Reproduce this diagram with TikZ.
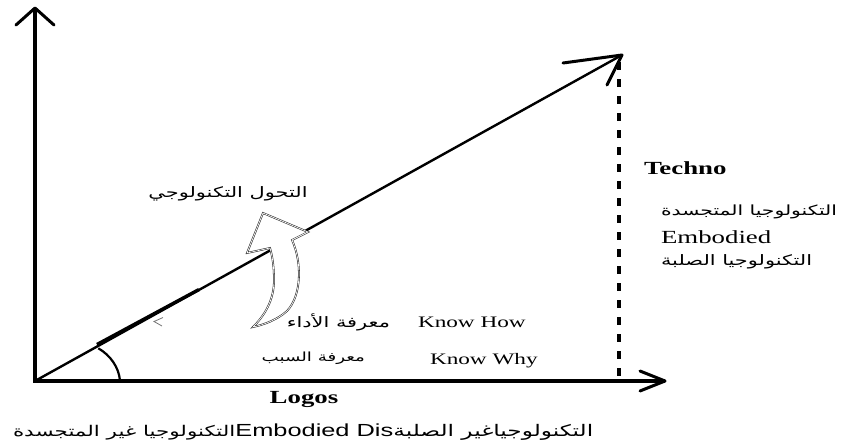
\documentclass[tikz,border=0pt]{standalone}
\usepackage{fontspec}
\TeXXeTstate=1
\newfontfamily\lat{Liberation Serif}[FakeStretch=1.45]
\newfontfamily\latsans{Liberation Sans}[FakeStretch=1.45]
\newfontfamily\arabicfont[Script=Arabic,FakeStretch=1.45]{DejaVu Sans}
\begin{document}
\begin{tikzpicture}[x=1pt,y=-1pt,
  every node/.style={inner sep=0pt,outer sep=0pt},
  axisline/.style={line width=3.8pt},
  diagline/.style={line width=2.4pt},
  wing/.style={line width=3pt,line cap=round,line join=round},
  dashline/.style={line width=4pt,dash pattern=on 8pt off 9pt},
  curvedarrow/.style={draw=black!85,line width=0.55pt,double=white,double distance=0.7pt,fill=white,line join=miter},
  latreg/.style={font=\lat\fontsize{16}{18}\selectfont},
  latbold/.style={font=\lat\bfseries\fontsize{18.5}{20}\selectfont},
  arab/.style={font=\arabicfont\fontsize{14.4}{16}\selectfont}
]
\path[use as bounding box] (0,0) rectangle (843,445);
% key points
\coordinate (O) at (35,381);
\coordinate (Ytip) at (35,8);
\coordinate (Yw1) at (16,25);
\coordinate (Yw2) at (54,25);
\coordinate (Xtip) at (665,381);
\coordinate (Xw1) at (640,371);
\coordinate (Xw2) at (640,391);
\coordinate (D) at (622,55);
\coordinate (Dw1) at (563,63);
\coordinate (Dw2) at (607,85);
\coordinate (Dtop) at (619,62);
\coordinate (Dbot) at (619,381);
% diagonal
\draw[diagline] (O) -- (D);
\draw[line width=3.4pt] (97,344.5) -- (199,289.5);
\draw[black!55,line width=0.8pt] (163,317.5) -- (154,321.5) -- (162,326);
\draw[wing] (Dw1) -- (D) -- (Dw2);
% dashed projection
\draw[dashline] (Dtop) -- (Dbot);
% axes
\draw[axisline] (Ytip) -- (O) -- (Xtip);
\draw[wing] (Yw1) -- (Ytip) -- (Yw2);
\draw[wing] (Xw1) -- (Xtip) -- (Xw2);
% angle arc
\draw[line width=2.2pt] (98.3,348.3) .. controls (110,355) and (119,367) .. (120,381);
% curved arrow
\draw[curvedarrow] (263,213) -- (308,232) -- (292,240)
  .. controls (302,262) and (302,295) .. (287,311)
  .. controls (277,320) and (263,325) .. (253,327)
  .. controls (265,315) and (274,300) .. (274,280)
  .. controls (274,265) and (272,255) .. (270,248)
  -- (247,253) -- cycle;
% texts
\node[latbold,anchor=base west] (techno) at (644,174) {Techno};
\node[arab,font=\arabicfont\fontsize{14}{16}\selectfont,anchor=west] (embA) at (661,212) {\beginR التكنولوجيا المتجسدة\endR};
\node[latreg,font=\lat\fontsize{18.5}{20}\selectfont,anchor=base west] (emb) at (661,243) {Embodied};
\node[arab,anchor=west] (embB) at (661,262) {\beginR التكنولوجيا الصلبة\endR};
\node[arab] (trans) at (228,194) {\beginR التحول التكنولوجي\endR};
\node[arab,anchor=east] (howar) at (390,322) {\beginR معرفة الأداء\endR};
\node[latreg,anchor=base west] (how) at (418,327) {Know How};
\node[arab,font=\arabicfont\fontsize{12.6}{15}\selectfont,anchor=east] (whyar) at (365,358) {\beginR معرفة السبب\endR};
\node[latreg,anchor=base west] (why) at (430,364) {Know Why};
\node[latbold,anchor=base] (logos) at (304,403) {Logos};
\node[anchor=west] (disemb) at (13,432) {{\arabicfont\fontsize{14.8}{16}\selectfont\beginR التكنولوجيا غير المتجسدة\endR}{\latsans\fontsize{17.5}{19}\selectfont Embodied Dis}{\arabicfont\fontsize{16}{17}\selectfont\beginR التكنولوجياغير الصلبة\endR}};
\end{tikzpicture}
\end{document}
